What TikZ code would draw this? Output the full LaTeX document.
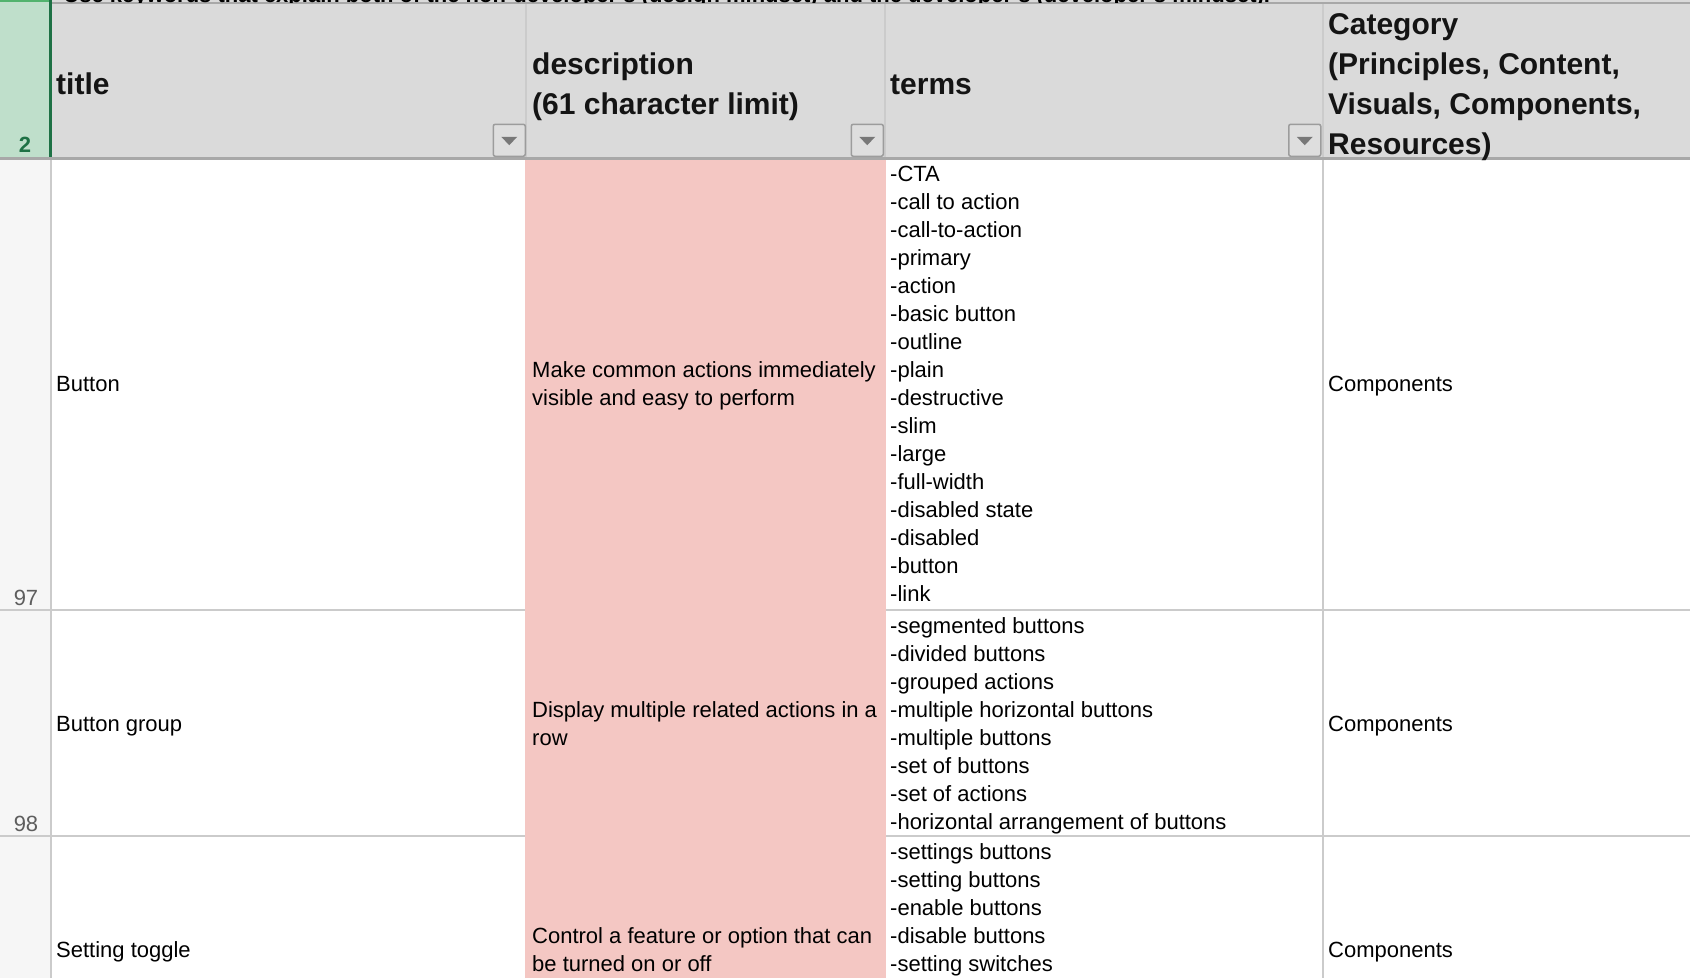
\documentclass[tikz,border=0pt]{standalone}
\usepackage{fontspec}
\setmainfont{Liberation Sans}
\definecolor{hdrfill}{HTML}{DADADA}
\definecolor{gridgray}{HTML}{CBCBCB}
\definecolor{hdrline}{HTML}{A8A8A8}
\definecolor{pinkfill}{HTML}{F4C7C3}
\definecolor{greenfill}{HTML}{BFDFCB}
\definecolor{dkgreen}{HTML}{1E7145}
\definecolor{ltgreen}{HTML}{52B36E}
\definecolor{rowgray}{HTML}{5E5E5E}
\definecolor{rowbg}{HTML}{F6F6F6}
\definecolor{btnfill}{HTML}{DEDEDE}
\definecolor{btnborder}{HTML}{9C9C9C}
\definecolor{tri}{HTML}{787878}
\begin{document}
\begin{tikzpicture}[x=1pt,y=-1pt,
  body/.style={anchor=base west,inner sep=0pt,font=\fontsize{22}{28}\selectfont,text=black},
  hdr/.style={anchor=base west,inner sep=0pt,font=\bfseries\fontsize{30}{40}\selectfont,text=black!92},
  rnum/.style={anchor=base,inner sep=0pt,font=\fontsize{22}{28}\selectfont,text=rowgray},
  ddbtn/.style={draw=btnborder,fill=btnfill,rounded corners=2pt,line width=1.5pt},
  gridline/.style={draw=gridgray,line width=2pt},
  tritip/.style={fill=tri}]
\useasboundingbox (0,0) rectangle (1690,978);
\fill[white] (0,0) rectangle (1690,978);
% header row
\fill[hdrfill] (51,0) rectangle (1690,158);
% row-number column
\fill[rowbg] (0,158) rectangle (50,978);
\fill[greenfill] (0,0) rectangle (50,158);
% grid lines
\draw[gridline] (526,3) -- (526,978);
\draw[gridline] (885,3) -- (885,978);
\draw[gridline] (1322.5,3) -- (1322.5,978);
\draw[gridline] (0,610) -- (1690,610);
\draw[gridline] (0,836) -- (1690,836);
\draw[gridline] (51,158) -- (51,978);
% description column fill
\fill[pinkfill] (525,159.5) rectangle (886,978);
% header borders
\draw[hdrline,line width=1.5pt] (51,3) -- (1690,3);
\draw[hdrline,line width=3pt] (0,158.5) -- (1690,158.5);
\draw[dkgreen,line width=3pt] (50.5,0) -- (50.5,157);
\draw[ltgreen,line width=2pt] (0,1) -- (49,1);
% clipped text of the row above
\begin{scope}
\clip (52,0) rectangle (1690,2.8);
\node[anchor=base west,inner sep=0pt,font=\bfseries\fontsize{22}{28}\selectfont] (rowone) at (56,2.6)
  {-Use keywords that explain both of the non-developer's (design mindset) and the developer's (developer's mindset).};
\end{scope}
% header texts
\node[anchor=base,inner sep=0pt,font=\bfseries\fontsize{22}{28}\selectfont,text=dkgreen] (rn2) at (25,152) {2};
\node[hdr] (htitle) at (56,94.5) {title};
\node[hdr] (hdesca) at (532,74.5) {description};
\node[hdr] (hdescb) at (532,114.5) {(61 character limit)};
\node[hdr] (hterms) at (890,94.5) {terms};
\node[hdr] (hcata) at (1328,34.5) {Category};
\node[hdr] (hcatb) at (1328,74.5) {(Principles, Content,};
\node[hdr] (hcatc) at (1328,114.5) {Visuals, Components,};
\node[hdr] (hcatd) at (1328,154.5) {Resources)};
% dropdown buttons
\foreach \bx/\nm in {492.5/bta,850.5/btb,1288/btc}{
  \node[ddbtn,minimum width=32pt,minimum height=32pt,inner sep=0pt,anchor=north west] (\nm) at (\bx,123.5) {};
  \fill[tritip] ([shift={(-8,-3.5)}]\nm.center) -- ([shift={(8,-3.5)}]\nm.center) -- ([shift={(0,5)}]\nm.center) -- cycle;
}
% row numbers
\node[rnum] (rn97) at (26,605) {97};
\node[rnum] (rn98) at (26,831) {98};
% row 97
\node[body] (ti97) at (56,391.7) {Button};
\node[body] (da97) at (532,377.7) {Make common actions immediately};
\node[body] (db97) at (532,405.7) {visible and easy to perform};
\node[body] (ca97) at (1328,391.7) {Components};
\foreach \t [count=\i] in {-CTA,-call to action,-call-to-action,-primary,-action,-basic button,-outline,-plain,-destructive,-slim,-large,-full-width,-disabled state,-disabled,-button,-link}{
  \node[body] (ta\i) at (890,{181.5+28*(\i-1)}) {\t};
}
% row 98
\node[body] (ti98) at (56,731) {Button group};
\node[body] (da98) at (532,717) {Display multiple related actions in a};
\node[body] (db98) at (532,745) {row};
\node[body] (ca98) at (1328,731) {Components};
\foreach \t [count=\i] in {-segmented buttons,-divided buttons,-grouped actions,-multiple horizontal buttons,-multiple buttons,-set of buttons,-set of actions,-horizontal arrangement of buttons}{
  \node[body] (tb\i) at (890,{633+28*(\i-1)}) {\t};
}
% row 99
\node[body] (ti99) at (56,957.5) {Setting toggle};
\node[body] (da99) at (532,943.5) {Control a feature or option that can};
\node[body] (db99) at (532,971.5) {be turned on or off};
\node[body] (ca99) at (1328,957.5) {Components};
\foreach \t [count=\i] in {-settings buttons,-setting buttons,-enable buttons,-disable buttons,-setting switches}{
  \node[body] (tc\i) at (890,{859.5+28*(\i-1)}) {\t};
}
\end{tikzpicture}
\end{document}
